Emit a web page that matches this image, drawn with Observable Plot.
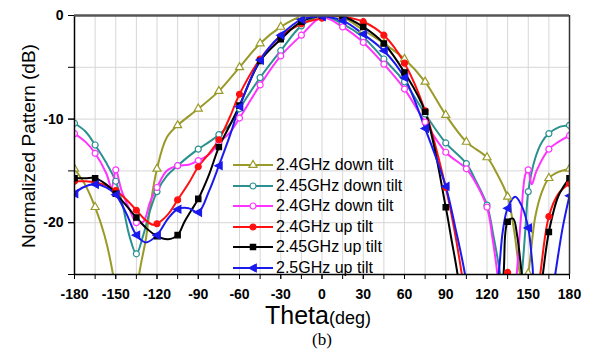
<!DOCTYPE html>
<html>
<head>
<meta charset="utf-8">
<script src="https://cdn.jsdelivr.net/npm/d3@7"></script>
<script src="https://cdn.jsdelivr.net/npm/@observablehq/plot@0.6"></script>
<style>
  html, body { margin: 0; padding: 0; background: #fff; }
  #wrap { position: relative; width: 592px; height: 353px; font-family: "Liberation Sans", Arial, sans-serif; }
  #wrap svg { display: block; }
  .ov { position: absolute; white-space: nowrap; color: #000; }
  .leg-row { position: absolute; height: 20px; display: flex; align-items: center; font-size: 16px; }
</style>
</head>
<body>
<div id="wrap"></div>
<script>
// ---------- data (theta in deg, normalized pattern in dB) ----------
const seriesNames = ["2.4GHz down tilt", "2.45GHz down tilt", "2.4GHz down tilt", "2.4GHz up tilt", "2.45GHz up tilt", "2.5GHz up tilt"];
const seriesColors = ["#9a9a2a", "#2a9090", "#ff33ff", "#ff1010", "#000000", "#1a1aee"];

const down24 = [[-180,-14.8],[-172,-16.4],[-165,-18.5],[-158,-21.3],[-152,-25],[-145,-32],[-139,-32],[-133,-25],[-128,-21.5],[-125,-18.5],[-120,-14.8],[-113,-11.8],[-105,-10.6],[-90,-9.0],[-75,-7.3],[-60,-5.0],[-45,-2.7],[-30,-1.1],[-15,-0.1],[0,0],[15,-0.2],[30,-1.4],[45,-2.7],[60,-4.2],[75,-6.4],[90,-9.6],[105,-12.2],[120,-13.7],[127,-15.2],[135,-17.5],[140,-21],[144,-25],[147,-26.5],[150,-24.9],[155,-19.5],[160,-17],[165,-15.7],[172,-15.1],[180,-14.8]];
const down245 = [[-180,-10.4],[-172,-11.2],[-165,-12.5],[-157,-14.2],[-150,-16.0],[-145,-18.3],[-140,-21.3],[-135,-23.0],[-130,-21.2],[-125,-18.8],[-120,-17.0],[-113,-15.5],[-105,-14.5],[-97,-13.6],[-90,-12.9],[-82,-12.2],[-75,-11.5],[-67,-10.5],[-60,-9.0],[-45,-6.0],[-30,-3.4],[-15,-1.0],[0,-0.05],[15,-0.8],[30,-2.1],[45,-4.2],[60,-6.4],[75,-9.5],[90,-12.3],[105,-14.3],[112,-16.0],[120,-18.3],[125,-21.5],[129.6,-25],[135,-31],[140,-31],[145.3,-25],[148,-20.5],[150,-17.0],[155,-13.8],[160,-12.2],[165,-11.4],[172,-10.8],[180,-10.6]];
const down24b = [[-180,-11.4],[-172,-12.2],[-165,-13.3],[-157,-15.2],[-153,-16.6],[-150,-14.9],[-146,-16.8],[-140,-18.7],[-135,-20.0],[-130,-19.9],[-125,-18.0],[-120,-16.6],[-113,-15.0],[-105,-14.5],[-97,-14.4],[-90,-14.0],[-82,-13.4],[-75,-12.3],[-67,-11.3],[-60,-9.9],[-45,-6.7],[-30,-3.9],[-15,-1.9],[0,-0.2],[15,-1.1],[30,-2.6],[45,-4.7],[60,-7.1],[75,-10.3],[90,-13.2],[105,-14.8],[112,-16.2],[120,-18.5],[124,-21.5],[127.6,-25],[132,-31],[137,-31],[141.6,-25],[145,-19],[148,-15.3],[150,-14.9],[152.5,-16.3],[156,-15.0],[165,-12.9],[172,-12.2],[180,-11.6]];
const up24 = [[-180,-16.0],[-172,-16.0],[-165,-16.1],[-157,-16.4],[-150,-16.9],[-142,-17.8],[-135,-18.8],[-128,-19.8],[-123,-20.2],[-120,-20.1],[-112,-19.2],[-105,-17.8],[-97,-16.2],[-90,-14.6],[-82,-13.3],[-75,-12.0],[-67,-9.8],[-60,-7.6],[-45,-4.2],[-30,-2.0],[-15,-0.8],[0,-0.25],[8,0],[15,-0.1],[30,-0.6],[45,-1.9],[60,-4.6],[75,-9.2],[90,-16.6],[96,-20.5],[101.7,-25],[108,-31],[126,-31],[131,-26],[135,-24.8],[139,-26],[143,-31],[153,-31],[158.7,-25],[165,-19.4],[172,-17.2],[180,-16.2]];
const up245 = [[-180,-15.7],[-172,-15.7],[-165,-15.7],[-157,-16.3],[-150,-17.2],[-142,-18.4],[-135,-19.5],[-128,-20.5],[-120,-21.3],[-112,-21.6],[-105,-21.2],[-100,-19.9],[-95,-18.8],[-90,-17.7],[-82,-15.3],[-75,-12.7],[-67,-10.6],[-60,-8.7],[-45,-4.4],[-30,-2.3],[-15,-0.6],[0,0],[15,-0.1],[30,-1.1],[45,-2.7],[60,-5.5],[75,-9.3],[90,-18.5],[94,-21.5],[98.6,-25],[104,-31],[127,-31],[132,-25],[135,-19.9],[139,-19.6],[142,-21.3],[145.3,-25],[150,-30],[156,-30],[160.6,-25],[165,-20.9],[172,-17.4],[180,-15.7]];
const up25 = [[-180,-17.2],[-174,-16.6],[-165,-16.3],[-157,-16.6],[-150,-17.3],[-142,-19.2],[-135,-21.2],[-128,-21.9],[-120,-21.2],[-112,-19.6],[-105,-18.7],[-97,-18.6],[-90,-19.0],[-82,-16.9],[-75,-14.5],[-67,-11.6],[-60,-8.8],[-45,-4.3],[-30,-1.9],[-15,-0.4],[0,-0.1],[15,-0.5],[30,-1.8],[45,-3.4],[60,-6.0],[75,-10.9],[90,-16.5],[97,-20.5],[104,-25],[110,-31],[122,-31],[128.4,-25],[131.5,-20.8],[135,-18.6],[140.5,-17.5],[145,-18.3],[150,-20.5],[153,-24],[157,-29],[165,-29],[169.6,-25],[175,-20.5],[180,-17.4]];

const xTicksMajor = [-180,-150,-120,-90,-60,-30,0,30,60,90,120,150,180];
const xTicksMinor = d3.range(-180, 181, 15);
const yTicks = [-25,-20,-15,-10,-5,0];
const yTickLabels = [0,-10,-20];

// ---------- symbols ----------
const leftTri = {
  draw(ctx, size) {
    const s = Math.sqrt(size / Math.PI) * 1.35;
    ctx.moveTo(-s, 0);
    ctx.lineTo(s * 0.8, -s * 0.95);
    ctx.lineTo(s * 0.8, s * 0.95);
    ctx.closePath();
  }
};
const seriesData = [down24, down245, down24b, up24, up245, up25];
const seriesSymbols = ["triangle", "circle", "circle", "circle", "square", leftTri];
const seriesFill = ["white", "white", "white", null, null, null];
const markerR = 3;

const marks = [
  Plot.gridX({ticks: xTicksMinor, stroke: "#d6d6d6", strokeOpacity: 1, strokeWidth: 1}),
  Plot.gridY({ticks: yTicks, stroke: "#d6d6d6", strokeOpacity: 1, strokeWidth: 1})
];
seriesData.forEach((data, i) => {
  marks.push(Plot.line(data, {x: d => d[0], y: d => d[1], stroke: seriesColors[i], strokeWidth: 2, curve: "catmull-rom", clip: true}));
});
seriesData.forEach((data, i) => {
  const pts = data.filter(d => d[0] % 15 === 0);
  marks.push(Plot.dot(pts, {
    x: d => d[0], y: d => d[1], symbol: () => seriesSymbols[i], r: markerR,
    stroke: seriesColors[i], strokeWidth: 1.2,
    fill: seriesFill[i] || seriesColors[i], clip: true
  }));
});
marks.push(
  Plot.ruleX([-180], {stroke: "#000", strokeWidth: 1.5}),
  Plot.ruleX([180], {stroke: "#333", strokeWidth: 1.5}),
  Plot.ruleY([-25], {stroke: "#000", strokeWidth: 1.5}),
  Plot.ruleY([0], {stroke: "#555", strokeWidth: 2.5}),
  Plot.axisX({ticks: xTicksMinor, tickFormat: () => "", tickSize: 5, label: null}),
  Plot.axisX({ticks: xTicksMajor, tickFormat: d => String(d), tickSize: 5, tickPadding: 10, label: null, fontSize: 14, fontWeight: "bold"}),
  Plot.axisY({ticks: yTicks, tickFormat: () => "", tickSize: 6, label: null}),
  Plot.axisY({ticks: yTickLabels, tickFormat: d => String(d), tickSize: 6, tickPadding: 5, label: null, fontSize: 14, fontWeight: "bold"})
);

const chart = Plot.plot({
  width: 592, height: 353,
  marginLeft: 74, marginRight: 23, marginTop: 15, marginBottom: 79,
  x: {domain: [-180, 180]},
  y: {domain: [-25, 0]},
  style: {fontFamily: "'Liberation Sans', Arial, sans-serif", fontSize: "14px", color: "#000", background: "#fff"},
  marks
});
const wrap = document.getElementById("wrap");
wrap.appendChild(chart);

// ---------- overlays: axis titles, caption, legend ----------
function ov(html, style) {
  const d = document.createElement("div");
  d.className = "ov";
  d.innerHTML = html;
  Object.assign(d.style, style);
  wrap.appendChild(d);
  return d;
}
ov("Normalized Pattern (dB)", {left: "28px", top: "146px", fontSize: "19px", lineHeight: "19px", transform: "translate(-50%,-50%) rotate(-90deg)"});
ov('<span style="font-size:25px">Theta</span><span style="font-size:18px">(deg)</span>', {left: "318px", top: "305px", lineHeight: "20px", transform: "translateX(-50%)"});
ov("(b)", {left: "322px", top: "331px", fontSize: "17px", lineHeight: "18px", fontFamily: "'Liberation Serif', 'Times New Roman', serif", transform: "translateX(-50%)"});

const symPath = (i) => {
  const s = seriesSymbols[i];
  const typ = s === "triangle" ? d3.symbolTriangle : s === "square" ? d3.symbolSquare : s === "circle" ? d3.symbolCircle : s;
  return d3.symbol(typ, markerR * markerR * Math.PI)();
};
seriesNames.forEach((name, i) => {
  const row = document.createElement("div");
  row.className = "leg-row";
  row.style.left = "232px";
  row.style.top = (165 + i * 20.6 - 10) + "px";
  const c = seriesColors[i];
  const fill = seriesFill[i] || c;
  row.innerHTML = `<svg width="42" height="20" style="margin-right:2px"><line x1="1" x2="41" y1="10" y2="10" stroke="${c}" stroke-width="2"/><path transform="translate(21,10)" d="${symPath(i)}" fill="${fill}" stroke="${c}" stroke-width="1.2"/></svg><span>${name}</span>`;
  wrap.appendChild(row);
});
</script>
</body>
</html>
